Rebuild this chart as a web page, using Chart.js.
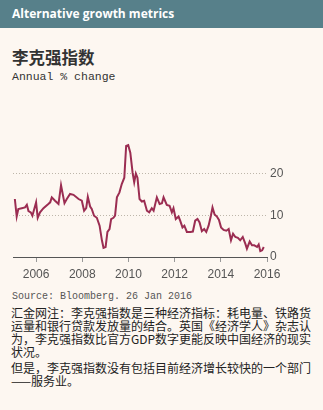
<!DOCTYPE html>
<html>
<head>
<meta charset="utf-8">
<script src="https://cdn.jsdelivr.net/npm/chart.js@4"></script>
<style>
  html, body { margin: 0; padding: 0; }
  body {
    width: 323px; height: 410px; overflow: hidden; position: relative;
    background: #fdf7f1; font-family: "Noto Sans CJK SC", "Noto Sans", sans-serif;
  }
  .bar {
    position: absolute; left: 0; top: 0; width: 323px; height: 28px;
    background: #57808a; color: #fff; font: bold 12px "Open Sans", "Noto Sans", sans-serif;
    line-height: 28px; padding-left: 12px; box-sizing: border-box;
  }
  .title {
    position: absolute; left: 12px; top: 45px; font-size: 16.5px; font-weight: bold; color: #333;
  }
  .sub {
    position: absolute; left: 12px; top: 70px; font: 11.5px "Liberation Mono", monospace; color: #333;
  }
  #wrap { position: absolute; left: 0; top: 130px; width: 323px; height: 155px; }
  .src {
    position: absolute; left: 12px; top: 291px; font: 10px "Liberation Mono", monospace; color: #555;
  }
  .note {
    position: absolute; left: 11px; top: 306px; font-size: 12px; line-height: 13px; color: #222;
    white-space: nowrap;
  }
  .note p { margin: 0; }
  .note p + p { margin-top: 3px; }
</style>
</head>
<body>
<div class="bar">Alternative growth metrics</div>
<div class="title">李克强指数</div>
<div class="sub">Annual % change</div>
<div id="wrap"><canvas id="myChart" width="323" height="155"></canvas></div>
<div class="src">Source: Bloomberg. 26 Jan 2016</div>
<div class="note">
  <p>汇金网注：李克强指数是三种经济指标：耗电量、铁路货<br>运量和银行贷款发放量的结合。英国《经济学人》杂志认<br>为，李克强指数比官方GDP数字更能反映中国经济的现实<br>状况。</p>
  <p>但是，李克强指数没有包括目前经济增长较快的一个部门<br>——服务业。</p>
</div>
<script>
// dates as decimal years, index in annual % change
const fechas = [
  2005.08, 2005.16, 2005.23, 2005.38, 2005.52, 2005.60, 2005.67, 2005.77, 2005.84, 2006.00,
  2006.07, 2006.17, 2006.32, 2006.53, 2006.61, 2006.68, 2006.82, 2006.97, 2007.08, 2007.23,
  2007.33, 2007.47, 2007.62, 2007.84, 2007.98, 2008.08, 2008.17, 2008.24, 2008.34, 2008.41,
  2008.51, 2008.63, 2008.75, 2008.85, 2008.92, 2009.01, 2009.09, 2009.18, 2009.25, 2009.35,
  2009.42, 2009.50, 2009.61, 2009.71, 2009.82, 2009.90, 2009.99, 2010.08, 2010.18, 2010.25,
  2010.32, 2010.39, 2010.48, 2010.58, 2010.68, 2010.80, 2010.90, 2011.01, 2011.09, 2011.23,
  2011.35, 2011.45, 2011.52, 2011.66, 2011.78, 2011.88, 2011.95, 2012.05, 2012.17, 2012.24,
  2012.34, 2012.42, 2012.53, 2012.68, 2012.79, 2012.89, 2012.99, 2013.08, 2013.18, 2013.28,
  2013.37, 2013.47, 2013.57, 2013.64, 2013.73, 2013.83, 2013.92, 2014.01, 2014.12, 2014.24,
  2014.34, 2014.44, 2014.53, 2014.63, 2014.74, 2014.84, 2014.95, 2015.06, 2015.13, 2015.25,
  2015.35, 2015.45, 2015.57, 2015.64, 2015.71, 2015.79, 2015.86
];
const indice = [
  13.9, 9.7, 11.5, 11.7, 11.9, 12.5, 11.0, 10.7, 9.9, 13.1,
  9.4, 10.7, 11.7, 12.7, 13.1, 14.3, 13.5, 12.7, 17.2, 12.9,
  13.9, 15.1, 14.9, 13.9, 13.5, 11.1, 11.7, 14.4, 12.1, 11.5,
  9.9, 9.4, 7.5, 4.0, 2.2, 2.4, 6.0, 6.7, 9.1, 9.4,
  9.9, 14.3, 15.5, 17.5, 19.0, 26.6, 26.8, 25.0, 20.2, 17.9,
  20.0, 19.0, 13.9, 13.3, 13.5, 11.1, 10.7, 11.7, 11.1, 14.3,
  12.7, 12.9, 14.3, 12.5, 12.3, 10.7, 11.7, 9.1, 9.7, 8.7,
  7.1, 7.5, 6.0, 6.0, 6.1, 8.7, 9.1, 8.3, 6.2, 6.7,
  6.0, 7.5, 9.9, 11.9, 10.2, 9.7, 8.9, 7.1, 6.5, 6.3,
  6.7, 4.0, 5.6, 4.8, 4.6, 4.0, 4.8, 3.2, 2.0, 3.7,
  2.8, 2.8, 2.4, 3.0, 1.4, 1.6, 2.4
];
const ticksX = [2006, 2008, 2010, 2012, 2014, 2016];
const ticksY = [0, 10, 20];

const grafica = document.getElementById("myChart").getContext("2d");

const myChart = new Chart(grafica, {
  type: "line",
  data: {
    datasets: [
      {
        label: "李克强指数",
        data: fechas.map((f, i) => ({ x: f, y: indice[i] })),
        borderColor: "#9b2d52",
        borderWidth: 2,
        pointRadius: 0,
        tension: 0,
      },
    ],
  },
  options: {
    responsive: false,
    animation: false,
    layout: { padding: { left: 13, top: 8, right: 0, bottom: 0 } },
    plugins: { legend: { display: false }, tooltip: { enabled: false } },
    scales: {
      x: {
        type: "linear",
        min: 2005,
        max: 2016,
        afterBuildTicks: (scale) => {
          scale.ticks = ticksX.map((v) => ({ value: v }));
        },
        afterFit: (scale) => {
          scale.height = 28;
        },
        border: { display: true, color: "#555", width: 1 },
        grid: { drawOnChartArea: false, color: "#999", tickLength: 5 },
        ticks: {
          color: "#555",
          font: { family: "Liberation Sans", size: 12 },
          padding: 5,
          maxRotation: 0,
          callback: (v) => String(v),
        },
      },
      y: {
        position: "right",
        min: 0,
        max: 28,
        afterBuildTicks: (scale) => {
          scale.ticks = ticksY.map((v) => ({ value: v }));
        },
        afterFit: (scale) => {
          scale.width = 56;
        },
        // dotted grid lines, the zero line is the x axis
        border: { display: false, dash: [1, 2] },
        grid: {
          drawTicks: false,
          color: (ctx) => (ctx.tick && ctx.tick.value === 0 ? "rgba(0,0,0,0)" : "#bdb6aa"),
          lineWidth: 1,
        },
        ticks: {
          color: "#555",
          font: { family: "Liberation Sans", size: 12 },
          padding: 3,
          callback: (v) => String(v),
        },
      },
    },
  },
});
</script>
</body>
</html>
